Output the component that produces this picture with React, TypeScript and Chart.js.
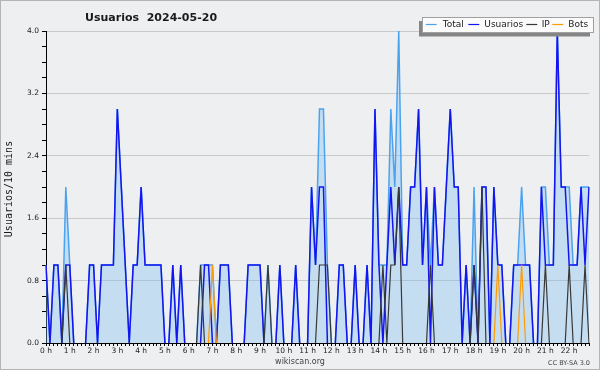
import React, { useEffect, useRef } from 'react';
import { Chart, registerables } from 'chart.js';

Chart.register(...registerables);

const TITLE = 'Usuarios  2024-05-20';
const Y_TITLE = 'Usuarios/10 mins';
const FOOTER = 'wikiscan.org';
const LICENSE = 'CC BY-SA 3.0';
const SERIES_NAMES = ['Total', 'Usuarios', 'IP', 'Bots'];
const SERIES_COLORS = ['#4ba3ef', '#1414f0', '#383838', '#ff9a00'];

const HOUR_LABELS = [
  '0 h', '1 h', '2 h', '3 h', '4 h', '5 h', '6 h', '7 h', '8 h', '9 h', '10 h', '11 h',
  '12 h', '13 h', '14 h', '15 h', '16 h', '17 h', '18 h', '19 h', '20 h', '21 h', '22 h',
];
const MINUTES = ['00', '10', '20', '30', '40', '50'];
// 10-minute slots from 0:00 to 22:50
const TIMES: string[] = HOUR_LABELS.flatMap((h) => MINUTES.map((m) => `${parseInt(h, 10)}:${m}`));

const Y_TICK_LABELS = ['0.0', '0.8', '1.6', '2.4', '3.2', '4.0'];

// one row per hour (6 slots of 10 minutes)
const TOTAL = [
  1, 0, 1, 1, 0, 2,
  1, 0, 0, 0, 0, 1,
  1, 0, 1, 1, 1, 1,
  3, 2, 1, 0, 1, 1,
  2, 1, 1, 1, 1, 1,
  0, 0, 1, 0, 1, 0,
  0, 0, 0, 1, 1, 1,
  1, 0, 1, 1, 1, 0,
  0, 0, 0, 1, 1, 1,
  1, 0, 1, 0, 0, 1,
  0, 0, 0, 1, 0, 0,
  0, 2, 1, 3, 3, 1,
  0, 0, 1, 1, 0, 0,
  1, 0, 0, 1, 0, 3,
  1, 1, 1, 3, 2, 4,
  1, 1, 2, 2, 3, 1,
  2, 1, 2, 1, 1, 2,
  3, 2, 2, 0, 1, 0,
  2, 0, 2, 2, 0, 2,
  1, 1, 0, 0, 1, 1,
  2, 1, 1, 0, 0, 2,
  2, 1, 1, 4, 2, 2,
  2, 1, 1, 2, 2, 2,
];

const USUARIOS = [
  1, 0, 1, 1, 0, 1,
  1, 0, 0, 0, 0, 1,
  1, 0, 1, 1, 1, 1,
  3, 2, 1, 0, 1, 1,
  2, 1, 1, 1, 1, 1,
  0, 0, 1, 0, 1, 0,
  0, 0, 0, 0, 1, 1,
  0, 0, 1, 1, 1, 0,
  0, 0, 0, 1, 1, 1,
  1, 0, 0, 0, 0, 1,
  0, 0, 0, 1, 0, 0,
  0, 2, 1, 2, 2, 0,
  0, 0, 1, 1, 0, 0,
  1, 0, 0, 1, 0, 3,
  1, 0, 1, 2, 1, 2,
  1, 1, 2, 2, 3, 1,
  2, 0, 2, 1, 1, 2,
  3, 2, 2, 0, 1, 0,
  1, 0, 2, 2, 0, 2,
  1, 1, 0, 0, 1, 1,
  1, 1, 1, 0, 0, 2,
  1, 1, 1, 4, 2, 2,
  1, 1, 1, 2, 1, 2,
];

const IP = [
  0, 0, 0, 0, 0, 1,
  0, 0, 0, 0, 0, 0,
  0, 0, 0, 0, 0, 0,
  0, 0, 0, 0, 0, 0,
  0, 0, 0, 0, 0, 0,
  0, 0, 0, 0, 0, 0,
  0, 0, 0, 1, 0, 0,
  0, 0, 0, 0, 0, 0,
  0, 0, 0, 0, 0, 0,
  0, 0, 1, 0, 0, 0,
  0, 0, 0, 0, 0, 0,
  0, 0, 0, 1, 1, 1,
  0, 0, 0, 0, 0, 0,
  0, 0, 0, 0, 0, 0,
  0, 1, 0, 1, 1, 2,
  0, 0, 0, 0, 0, 0,
  0, 1, 0, 0, 0, 0,
  0, 0, 0, 0, 0, 0,
  1, 0, 2, 0, 0, 0,
  0, 0, 0, 0, 0, 0,
  0, 0, 0, 0, 0, 0,
  1, 0, 0, 0, 0, 0,
  1, 0, 0, 0, 1, 0,
];

const BOTS = [
  0, 0, 0, 0, 0, 0,
  0, 0, 0, 0, 0, 0,
  0, 0, 0, 0, 0, 0,
  0, 0, 0, 0, 0, 0,
  0, 0, 0, 0, 0, 0,
  0, 0, 0, 0, 0, 0,
  0, 0, 0, 0, 0, 0,
  1, 0, 0, 0, 0, 0,
  0, 0, 0, 0, 0, 0,
  0, 0, 0, 0, 0, 0,
  0, 0, 0, 0, 0, 0,
  0, 0, 0, 0, 0, 0,
  0, 0, 0, 0, 0, 0,
  0, 0, 0, 0, 0, 0,
  0, 0, 0, 0, 0, 0,
  0, 0, 0, 0, 0, 0,
  0, 0, 0, 0, 0, 0,
  0, 0, 0, 0, 0, 0,
  0, 0, 0, 0, 0, 0,
  1, 0, 0, 0, 0, 0,
  1, 0, 0, 0, 0, 0,
  0, 0, 0, 0, 0, 0,
  0, 0, 0, 0, 0, 0,
];

const FONT = '"DejaVu Sans", sans-serif';

function isMajor(v: number): boolean {
  const r = v / 0.8;
  return Math.abs(r - Math.round(r)) < 1e-6;
}

// hide the segments that run along the x axis (both ends at zero)
const hideZeroRun = {
  borderColor: (ctx: any) =>
    ctx.p0.parsed.y === 0 && ctx.p1.parsed.y === 0 ? 'rgba(0,0,0,0)' : undefined,
};

export default function App() {
  const ref = useRef<HTMLCanvasElement>(null);

  useEffect(() => {
    document.body.style.margin = '0';
    const canvas = ref.current;
    if (!canvas) return;

    const decor = {
      id: 'decor',
      beforeDraw(chart: any) {
        const c = chart.ctx;
        c.save();
        c.fillStyle = '#eeeff1';
        c.fillRect(0, 0, chart.width, chart.height);
        c.strokeStyle = '#b4b4b4';
        c.lineWidth = 1;
        c.strokeRect(0.5, 0.5, chart.width - 1, chart.height - 1);
        c.restore();
      },
      afterDraw(chart: any) {
        const c = chart.ctx;
        c.save();
        // title
        c.fillStyle = '#1a1a1a';
        c.font = `bold 11px ${FONT}`;
        c.textAlign = 'left';
        c.textBaseline = 'alphabetic';
        c.fillText(TITLE, 85, 20.5);

        // y axis title
        c.save();
        c.translate(9, 189);
        c.rotate(-Math.PI / 2);
        c.font = '10px "DejaVu Sans Mono", monospace';
        c.textAlign = 'center';
        c.textBaseline = 'middle';
        c.fillStyle = '#1a1a1a';
        c.fillText(Y_TITLE, 0, 0);
        c.restore();

        // footer
        c.fillStyle = '#444';
        c.font = `8px ${FONT}`;
        c.textAlign = 'center';
        c.textBaseline = 'alphabetic';
        c.fillText(FOOTER, 300, 364);
        c.font = `6.5px ${FONT}`;
        c.textAlign = 'right';
        c.fillText(LICENSE, 590, 365);

        // legend
        const bx = 422.5, by = 17.5, bw = 171, bh = 15;
        c.fillStyle = '#858585';
        c.fillRect(bx - 3.5, by + 3.5, bw, bh + 0.5);
        c.fillStyle = '#fbfbfb';
        c.fillRect(bx, by, bw, bh);
        c.strokeStyle = '#a0a0a0';
        c.lineWidth = 1;
        c.strokeRect(bx, by, bw, bh);
        const lineX = [425.7, 468.3, 526.3, 552.3];
        const textX = [442.7, 484.3, 541.7, 568.3];
        c.font = `9px ${FONT}`;
        c.textAlign = 'left';
        c.textBaseline = 'middle';
        SERIES_NAMES.forEach((name, i) => {
          c.strokeStyle = SERIES_COLORS[i];
          c.lineWidth = 1.2;
          c.beginPath();
          c.moveTo(lineX[i], 24.5);
          c.lineTo(lineX[i] + 11, 24.5);
          c.stroke();
          c.fillStyle = '#222';
          c.fillText(name, textX[i], 25);
        });
        c.restore();
      },
    };

    const chart = new Chart(canvas, {
      type: 'line',
      data: {
        labels: TIMES,
        datasets: [
          { label: SERIES_NAMES[3], data: BOTS, borderColor: SERIES_COLORS[3], borderWidth: 1.2, pointRadius: 0, fill: false, segment: hideZeroRun },
          { label: SERIES_NAMES[2], data: IP, borderColor: SERIES_COLORS[2], borderWidth: 1.2, pointRadius: 0, fill: false, segment: hideZeroRun },
          { label: SERIES_NAMES[1], data: USUARIOS, borderColor: SERIES_COLORS[1], borderWidth: 1.5, pointRadius: 0, fill: false, segment: hideZeroRun },
          {
            label: SERIES_NAMES[0], data: TOTAL, borderColor: SERIES_COLORS[0], borderWidth: 1.5, pointRadius: 0,
            fill: 'origin', backgroundColor: 'rgba(124,188,241,0.36)', segment: hideZeroRun,
          },
        ],
      },
      options: {
        responsive: false,
        animation: false,
        devicePixelRatio: 1,
        layout: { padding: { left: 0, right: 11, top: 31, bottom: 0 } },
        plugins: {
          legend: { display: false },
          title: { display: false },
          tooltip: { enabled: false },
        },
        elements: { line: { tension: 0 }, point: { radius: 0 } },
        scales: {
          x: {
            type: 'category',
            offset: false,
            z: 1,
            grid: { display: true, drawOnChartArea: false, drawTicks: true, tickLength: 3, tickColor: '#000' },
            border: { display: true, color: '#000', width: 1 },
            ticks: {
              autoSkip: false,
              maxRotation: 0,
              minRotation: 0,
              padding: 1,
              color: '#222',
              font: { family: FONT, size: 7.5 },
              callback: (_v: any, i: number) => (i % 6 === 0 ? HOUR_LABELS[i / 6] : ''),
            },
            afterFit: (s: any) => { s.height = 27; },
          },
          y: {
            type: 'linear',
            min: 0,
            max: 4,
            ticks: {
              stepSize: 0.2,
              padding: 3,
              color: '#222',
              font: { family: FONT, size: 7.5 },
              callback: (v: any) => (isMajor(Number(v)) ? Y_TICK_LABELS[Math.round(Number(v) / 0.8)] : ''),
            },
            grid: {
              color: (ctx: any) => (ctx.tick && ctx.tick.value > 0 && isMajor(ctx.tick.value) ? '#c9c9c9' : 'rgba(0,0,0,0)'),
              tickColor: '#000',
              tickLength: 4,
              drawTicks: true,
            },
            border: { display: true, color: '#000', width: 1 },
            afterFit: (s: any) => { s.width = 46; },
          },
        },
      },
      plugins: [decor],
    } as any);

    return () => chart.destroy();
  }, []);

  return (
    <div style={{ width: 600, height: 370 }}>
      <canvas ref={ref} width={600} height={370} style={{ display: 'block', width: 600, height: 370 }} />
    </div>
  );
}
